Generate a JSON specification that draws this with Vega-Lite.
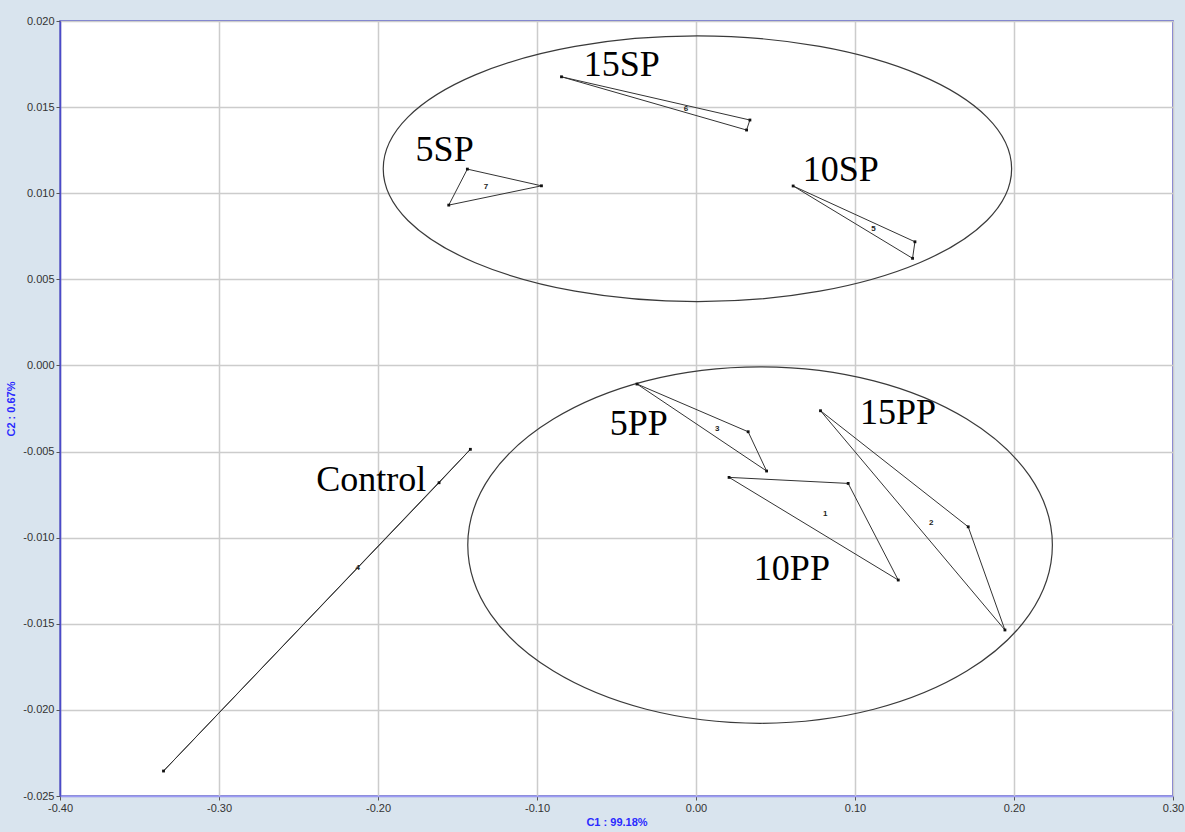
{
  "$schema": "https://vega.github.io/schema/vega-lite/v6.json",
  "width": 1113,
  "height": 775,
  "autosize": {"type": "none"},
  "padding": {"left": 60, "top": 21, "right": 12, "bottom": 36},
  "background": "#d9e4ee",
  "config": {
    "view": {"fill": "white", "stroke": "#4a4ac8", "strokeWidth": 1.5},
    "axis": {
      "labelFont": "Liberation Sans",
      "labelFontSize": 11,
      "labelColor": "#333333",
      "tickColor": "#555555",
      "tickSize": 4,
      "gridColor": "#cccccc",
      "gridWidth": 1.5,
      "titleFont": "Liberation Sans",
      "titleFontSize": 11,
      "titleColor": "#2a2aff",
      "titleFontWeight": "bold"
    }
  },
  "datasets": {
    "ellipses": [
      {"name": "SP", "x": 0.0009, "y": 0.01142},
      {"name": "PP", "x": 0.0403, "y": -0.01043}
    ],
    "tri": [
      {"group": "Control", "id": "4", "v": 1, "x": -0.3349, "y": -0.02355},
      {"group": "Control", "id": "4", "v": 2, "x": -0.1419, "y": -0.00487},
      {"group": "Control", "id": "4", "v": 3, "x": -0.1616, "y": -0.00681},
      {"group": "5SP", "id": "7", "v": 1, "x": -0.1438, "y": 0.0114},
      {"group": "5SP", "id": "7", "v": 2, "x": -0.0972, "y": 0.01043},
      {"group": "5SP", "id": "7", "v": 3, "x": -0.1555, "y": 0.00931},
      {"group": "15SP", "id": "6", "v": 1, "x": -0.0846, "y": 0.01676},
      {"group": "15SP", "id": "6", "v": 2, "x": 0.0339, "y": 0.01425},
      {"group": "15SP", "id": "6", "v": 3, "x": 0.0318, "y": 0.01367},
      {"group": "10SP", "id": "5", "v": 1, "x": 0.0611, "y": 0.01042},
      {"group": "10SP", "id": "5", "v": 2, "x": 0.1377, "y": 0.00718},
      {"group": "10SP", "id": "5", "v": 3, "x": 0.1362, "y": 0.00622},
      {"group": "5PP", "id": "3", "v": 1, "x": -0.0371, "y": -0.00108},
      {"group": "5PP", "id": "3", "v": 2, "x": 0.0328, "y": -0.00385},
      {"group": "5PP", "id": "3", "v": 3, "x": 0.0444, "y": -0.00613},
      {"group": "10PP", "id": "1", "v": 1, "x": 0.0208, "y": -0.0065},
      {"group": "10PP", "id": "1", "v": 2, "x": 0.0957, "y": -0.00685},
      {"group": "10PP", "id": "1", "v": 3, "x": 0.1272, "y": -0.01246},
      {"group": "15PP", "id": "2", "v": 1, "x": 0.0783, "y": -0.00263},
      {"group": "15PP", "id": "2", "v": 2, "x": 0.1712, "y": -0.00937},
      {"group": "15PP", "id": "2", "v": 3, "x": 0.1943, "y": -0.01536}
    ],
    "labels": [
      {"text": "15SP", "x": -0.0467, "y": 0.01682},
      {"text": "5SP", "x": -0.1581, "y": 0.01189},
      {"text": "10SP", "x": 0.0911, "y": 0.01071},
      {"text": "5PP", "x": -0.036, "y": -0.00404},
      {"text": "15PP", "x": 0.127, "y": -0.00342},
      {"text": "10PP", "x": 0.0603, "y": -0.01246},
      {"text": "Control", "x": -0.2042, "y": -0.00728}
    ]
  },
  "layer": [
    {
      "data": {"name": "ellipses"},
      "transform": [{"filter": "datum.name === 'SP'"}],
      "mark": {
        "type": "point",
        "shape": "M -1 0 C -1 -0.2335 -0.5523 -0.4227 0 -0.4227 C 0.5523 -0.4227 1 -0.2335 1 0 C 1 0.2335 0.5523 0.4227 0 0.4227 C -0.5523 0.4227 -1 0.2335 -1 0 Z",
        "size": 394887,
        "filled": false,
        "color": "#3a3a3a",
        "strokeWidth": 1.2,
        "opacity": 1
      },
      "encoding": {
        "x": {
          "field": "x",
          "type": "quantitative",
          "scale": {"domain": [-0.4, 0.3], "nice": false, "zero": false},
          "axis": {
            "title": "C1 : 99.18%",
            "values": [-0.4, -0.3, -0.2, -0.1, 0, 0.1, 0.2, 0.3],
            "labelExpr": "replace(format(datum.value, '.2f'), '\u2212', '-')",
            "labelPadding": 2,
            "titlePadding": 3,
            "domainColor": "#9b9bf5",
            "domainWidth": 1.5,
            "labelFlush": false
          }
        },
        "y": {
          "field": "y",
          "type": "quantitative",
          "scale": {"domain": [-0.025, 0.02], "nice": false, "zero": false},
          "axis": {
            "title": "C2 : 0.67%",
            "values": [-0.025, -0.02, -0.015, -0.01, -0.005, 0, 0.005, 0.01, 0.015, 0.02],
            "labelExpr": "replace(format(datum.value, '.3f'), '\u2212', '-')",
            "labelPadding": 2,
            "titlePadding": 6,
            "domainColor": "#4a4ac8",
            "domainWidth": 1.5,
            "labelFlush": false
          }
        }
      }
    },
    {
      "data": {"name": "ellipses"},
      "transform": [{"filter": "datum.name === 'PP'"}],
      "mark": {
        "type": "point",
        "shape": "M -1 0 C -1 -0.3367 -0.5523 -0.6097 0 -0.6097 C 0.5523 -0.6097 1 -0.3367 1 0 C 1 0.3367 0.5523 0.6097 0 0.6097 C -0.5523 0.6097 -1 0.3367 -1 0 Z",
        "size": 341757,
        "filled": false,
        "color": "#3a3a3a",
        "strokeWidth": 1.2,
        "opacity": 1
      },
      "encoding": {
        "x": {"field": "x", "type": "quantitative"},
        "y": {"field": "y", "type": "quantitative"}
      }
    },
    {
      "data": {"name": "tri"},
      "mark": {"type": "line", "interpolate": "linear-closed", "color": "#333333", "strokeWidth": 1},
      "encoding": {
        "x": {"field": "x", "type": "quantitative"},
        "y": {"field": "y", "type": "quantitative"},
        "detail": {"field": "group"},
        "order": {"field": "v"}
      }
    },
    {
      "data": {"name": "tri"},
      "mark": {"type": "point", "shape": "square", "filled": true, "size": 8, "color": "#111111", "opacity": 1},
      "encoding": {
        "x": {"field": "x", "type": "quantitative"},
        "y": {"field": "y", "type": "quantitative"}
      }
    },
    {
      "data": {"name": "tri"},
      "transform": [
        {"aggregate": [{"op": "mean", "field": "x", "as": "x"}, {"op": "mean", "field": "y", "as": "y"}], "groupby": ["id"]}
      ],
      "mark": {"type": "text", "font": "Liberation Sans", "fontSize": 8, "fontWeight": "bold", "color": "#222222", "baseline": "middle", "align": "center"},
      "encoding": {
        "x": {"field": "x", "type": "quantitative"},
        "y": {"field": "y", "type": "quantitative"},
        "text": {"field": "id"}
      }
    },
    {
      "data": {"name": "labels"},
      "mark": {"type": "text", "font": "Liberation Serif", "fontSize": 36, "color": "#000000", "baseline": "alphabetic", "align": "center"},
      "encoding": {
        "x": {"field": "x", "type": "quantitative"},
        "y": {"field": "y", "type": "quantitative"},
        "text": {"field": "text"}
      }
    },
    {
      "mark": {"type": "rule", "color": "#9b9bf5", "strokeWidth": 1.5},
      "encoding": {"x": {"datum": 0.3}}
    }
  ]
}
